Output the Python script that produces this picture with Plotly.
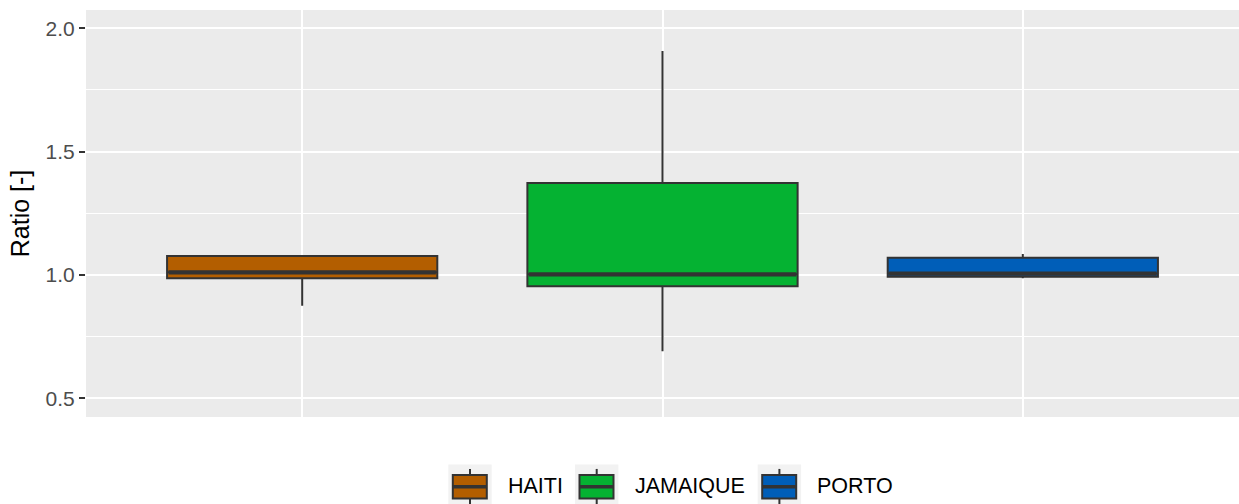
import plotly.graph_objects as go

categories = ["HAITI", "JAMAIQUE", "PORTO"]
q1_vals = [0.987, 0.955, 0.993]
median_vals = [1.011, 1.003, 1.006]
q3_vals = [1.077, 1.373, 1.070]
lower_vals = [0.876, 0.691, 0.987]
upper_vals = [1.077, 1.908, 1.085]
colors = ["#B35E00", "#05B232", "#005EB8"]
y_ticks = [0.5, 1.0, 1.5, 2.0]
y_minor = [0.75, 1.25, 1.75]

# layout constants (page pixels)
W, H = 1239, 504
PLOT_L, PLOT_R, PLOT_T, PLOT_B = 86, 1239, 10, 417.5
legend_key_left = [448.3, 575.0, 757.7]   # legend layout positions (px)

BOX_W = 0.75
fig = go.Figure()
for i, cat in enumerate(categories):
    fig.add_trace(go.Box(
        x=[i], q1=[q1_vals[i]], median=[median_vals[i]], q3=[q3_vals[i]],
        lowerfence=[lower_vals[i]], upperfence=[upper_vals[i]],
        name=cat, fillcolor=colors[i], width=BOX_W, whiskerwidth=0,
        line=dict(color="#333333", width=2), boxpoints=False,
        showlegend=False, hoverinfo="y",
    ))
for i, cat in enumerate(categories):
    fig.add_trace(go.Scatter(
        x=[i - BOX_W / 2 + 0.004, i + BOX_W / 2 - 0.004],
        y=[median_vals[i], median_vals[i]],
        mode="lines", line=dict(color="#333333", width=4.3),
        showlegend=False, hoverinfo="skip",
    ))


def px_x(p):
    return (p - PLOT_L) / (PLOT_R - PLOT_L)


def px_y(p):
    return (PLOT_B - p) / (PLOT_B - PLOT_T)


# custom ggplot-like legend
for i, cat in enumerate(categories):
    kx = legend_key_left[i]
    fig.add_shape(type="rect", xref="paper", yref="paper",
                  x0=px_x(kx), x1=px_x(kx + 43.4), y0=px_y(465), y1=px_y(510),
                  fillcolor="#F2F2F2", line=dict(width=0), layer="below")
    cx = kx + 21.7
    fig.add_shape(type="line", xref="paper", yref="paper",
                  x0=px_x(cx), x1=px_x(cx), y0=px_y(469.5), y1=px_y(475),
                  line=dict(color="#333333", width=2))
    fig.add_shape(type="line", xref="paper", yref="paper",
                  x0=px_x(cx), x1=px_x(cx), y0=px_y(499), y1=px_y(510),
                  line=dict(color="#333333", width=2))
    fig.add_shape(type="rect", xref="paper", yref="paper",
                  x0=px_x(kx + 4.5), x1=px_x(kx + 38.5), y0=px_y(475.5), y1=px_y(499),
                  fillcolor=colors[i], line=dict(color="#333333", width=2))
    fig.add_shape(type="line", xref="paper", yref="paper",
                  x0=px_x(kx + 4.5), x1=px_x(kx + 38.5), y0=px_y(487.3), y1=px_y(487.3),
                  line=dict(color="#333333", width=3.5))
    fig.add_annotation(xref="paper", yref="paper", x=px_x(kx + 57.5), y=px_y(486.5),
                       text=cat, showarrow=False, xanchor="left", yanchor="middle",
                       font=dict(size=21.5, color="black"))

fig.update_layout(
    width=W, height=H,
    margin=dict(l=PLOT_L, r=W - PLOT_R, t=PLOT_T, b=H - PLOT_B),
    paper_bgcolor="white", plot_bgcolor="#EBEBEB",
    boxmode="overlay", showlegend=False,
    font=dict(family="Liberation Sans, Arial, sans-serif"),
    xaxis=dict(range=[-0.6, 2.6], tickvals=[0, 1, 2], showticklabels=False, ticks="",
               showgrid=True, gridcolor="white", gridwidth=2, zeroline=False, showline=False),
    yaxis=dict(range=[0.425, 2.074], tickvals=y_ticks, ticktext=[f"{v:.1f}" for v in y_ticks],
               ticks="outside", ticklen=6, tickwidth=2, tickcolor="#333333",
               tickfont=dict(size=21, color="#4D4D4D"),
               showgrid=True, gridcolor="white", gridwidth=2, zeroline=False, showline=False,
               minor=dict(tickvals=y_minor, showgrid=True, gridcolor="white", gridwidth=1, ticks=""),
               title=dict(text="Ratio [-]", font=dict(size=25, color="black"), standoff=8)),
)
fig.write_html(
    "out.html",
    config={"displayModeBar": False},
    post_script="document.body.style.margin='0';document.body.style.overflow='hidden';",
)
